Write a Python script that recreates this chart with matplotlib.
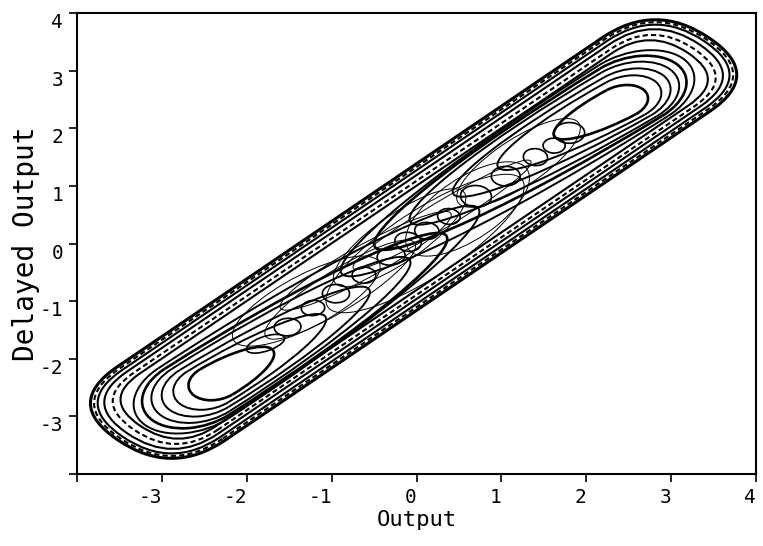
import numpy as np
import matplotlib
matplotlib.use("Agg")
import matplotlib.pyplot as plt
from matplotlib.patches import FancyBboxPatch, Ellipse, Arc
from matplotlib.transforms import Affine2D

# loops running round both scrolls, measured along the diagonal y = x
env_lo = [-4.90, -4.86, -4.82, -4.74, -4.64, -4.54]
env_hi = [4.96, 4.92, 4.88, 4.80, 4.70, 4.60]
env_half = [0.90, 0.86, 0.82, 0.76, 0.70, 0.64]
env_off = [0.08, 0.08, 0.08, 0.08, 0.07, 0.07]
env_dash = [False, True, False, False, True, False]

# upper-right scroll loops: far tip, widest point, near tip (along diagonal),
# half width, offset across, tilt
up_far = [3.78, 3.98, 4.12, 4.25, 4.37, 4.49]
up_mid = [3.44, 3.52, 3.56, 3.60, 3.64, 3.68]
up_near = [2.45, 1.60, 0.90, 0.20, -0.40, -1.00]
up_half = [0.27, 0.36, 0.43, 0.50, 0.55, 0.60]
up_off = [0.03, 0.04, 0.05, 0.06, 0.07, 0.07]
up_tilt = [38, 39, 40, 41, 42, 43]

# lower-left scroll loops
lo_far = [-3.72, -3.94, -4.10, -4.24, -4.37, -4.49]
lo_mid = [-3.37, -3.50, -3.55, -3.60, -3.65, -3.69]
lo_near = [-2.50, -1.65, -0.95, -0.25, 0.35, 0.95]
lo_half = [0.29, 0.36, 0.43, 0.50, 0.55, 0.60]
lo_off = [-0.03, -0.02, -0.01, 0.00, 0.01, 0.02]
lo_tilt = [41, 42, 42, 43, 43, 44]

# small loops strung along the middle
mid_x = [-1.78, -1.52, -1.22, -0.95, -0.62, -0.30, -0.10, 0.12, 0.38, 0.70, 1.05, 1.40, 1.62, 1.80]
mid_y = [-1.74, -1.45, -1.12, -0.87, -0.55, -0.22, 0.03, 0.22, 0.47, 0.82, 1.17, 1.50, 1.70, 1.92]
mid_w = [0.50, 0.32, 0.28, 0.32, 0.28, 0.34, 0.30, 0.28, 0.26, 0.36, 0.34, 0.28, 0.26, 0.36]
mid_h = [0.24, 0.30, 0.26, 0.32, 0.28, 0.30, 0.34, 0.30, 0.28, 0.38, 0.34, 0.30, 0.26, 0.36]

# long thin crossing strands through the centre
tan_x = [-0.60, -0.20, 0.30, 0.60, -0.90, 0.10, -1.30, 1.20]
tan_y = [-0.30, 0.10, 0.50, 0.60, -0.80, 0.00, -1.00, 1.40]
tan_w = [2.6, 2.2, 2.8, 2.0, 2.4, 3.2, 2.2, 2.0]
tan_h = [0.5, 0.7, 0.4, 0.9, 0.6, 1.0, 0.8, 0.7]
tan_a = [40, 48, 42, 50, 44, 46, 41, 47]

xticks = [-4, -3, -2, -1, 0, 1, 2, 3, 4]
yticks = [-4, -3, -2, -1, 0, 1, 2, 3, 4]

mono = "DejaVu Sans Mono"
r2 = np.sqrt(2.0)

fig = plt.figure(figsize=(7.63, 5.46), dpi=100)
ax = fig.add_axes([0.101, 0.132, 0.890, 0.844])

rot = Affine2D().rotate_deg(45) + ax.transData


def band(lo, hi, half, off, lw, ls="-"):
    box = FancyBboxPatch((lo, off - half), hi - lo, 2 * half,
                         boxstyle="round,pad=0,rounding_size=%.3f" % (half * 0.99),
                         fill=False, ec="black", lw=lw, ls=ls, transform=rot)
    ax.add_patch(box)


def scroll_loop(far, mid, near, half, off, tilt, lw, upper=True):
    # blunt half towards the tip, long tapered half towards the other scroll
    cx, cy = (mid - off) / r2, (mid + off) / r2
    a_far, a_near = abs(far - mid), abs(mid - near)
    t_far, t_near = ((-90, 90), (90, 270)) if upper else ((90, 270), (-90, 90))
    ax.add_patch(Arc((cx, cy), 2 * a_far, 2 * half, angle=tilt,
                     theta1=t_far[0], theta2=t_far[1], ec="black", lw=lw))
    ax.add_patch(Arc((cx, cy), 2 * a_near, 2 * half, angle=tilt,
                     theta1=t_near[0], theta2=t_near[1], ec="black", lw=lw))


for i in range(len(env_lo)):
    lw = 2.2 if i == 0 else 1.5
    ls = (0, (2.5, 1.5)) if env_dash[i] else "-"
    band(env_lo[i], env_hi[i], env_half[i], env_off[i], lw, ls)

for i in range(len(up_far)):
    lw = 1.9 if i in (0, 4) else 1.4
    scroll_loop(up_far[i], up_mid[i], up_near[i], up_half[i], up_off[i], up_tilt[i], lw, True)
    scroll_loop(lo_far[i], lo_mid[i], lo_near[i], lo_half[i], lo_off[i], lo_tilt[i], lw, False)

for x, y, w, h, a in zip(tan_x, tan_y, tan_w, tan_h, tan_a):
    ax.add_patch(Ellipse((x, y), w, h, angle=a, fill=False, ec="black", lw=0.7))

for x, y, w, h in zip(mid_x, mid_y, mid_w, mid_h):
    ax.add_patch(Ellipse((x, y), w, h, angle=30, fill=False, ec="black", lw=1.2))

ax.set_xlim(-4, 4)
ax.set_ylim(-4, 4)
ax.set_xticks(xticks)
ax.set_yticks(yticks)
ax.set_xticklabels(["" if v == -4 else str(v) for v in xticks], fontfamily=mono, fontsize=14)
ax.set_yticklabels(["" if v == -4 else str(v) for v in yticks], fontfamily=mono, fontsize=14)
for t in ax.get_xticklabels():
    t.set_horizontalalignment("right")
for t in ax.get_yticklabels():
    t.set_verticalalignment("top")
ax.tick_params(direction="out", length=6, width=1.2, pad=4)

for sp in ax.spines.values():
    sp.set_linewidth(1.5)

ax.set_xlabel("Output", fontfamily=mono, fontsize=16, labelpad=2)
ax.set_ylabel("Delayed Output", fontfamily=mono, fontsize=20, labelpad=0)

fig.savefig("out.png", dpi=100)
